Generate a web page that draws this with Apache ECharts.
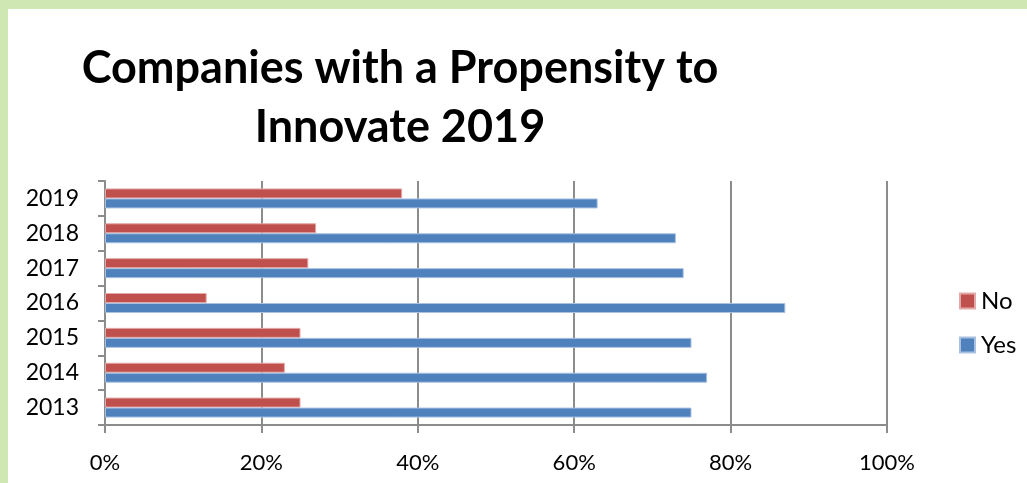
<!DOCTYPE html>
<html>
<head>
<meta charset="utf-8">
<script src="https://cdn.jsdelivr.net/npm/echarts@6/dist/echarts.min.js"></script>
<style>
html,body{margin:0;padding:0;background:#CFE8B3;width:1027px;height:483px;overflow:hidden;}
#chart{position:absolute;left:8px;top:9px;width:1019px;height:474px;background:#ffffff;}
</style>
</head>
<body>
<div id="chart"></div>
<script>
const categories = ['2013','2014','2015','2016','2017','2018','2019'];
const noValues = [25, 23, 25, 13, 26, 27, 38];
const yesValues = [75, 77, 75, 87, 74, 73, 63];
const xTicks = [0, 20, 40, 60, 80, 100];

const chart = echarts.init(document.getElementById('chart'));
const font = 'Lato, "Open Sans", sans-serif';
chart.setOption({
  animation: false,
  title: {
    text: 'Companies with a Propensity to\nInnovate 2019',
    left: 387, top: 25, textAlign: 'center',
    textStyle: { fontFamily: font, fontWeight: 'bold', fontSize: 45, lineHeight: 59, color: '#000' }
  },
  legend: {
    data: ['No', 'Yes'],
    orient: 'vertical',
    left: 946, top: 275,
    itemWidth: 15, itemHeight: 15, itemGap: 20,
    icon: 'rect',
    textStyle: { fontFamily: font, fontSize: 24, color: '#000', padding: [0,0,0,1] }
  },
  grid: { left: 97, top: 172, right: 140, bottom: 58 },
  xAxis: {
    type: 'value', min: 0, max: 100, interval: 20,
    axisLine: { show: true, lineStyle: { color: '#8c8c8c', width: 2 } },
    axisTick: { show: true, length: 8, lineStyle: { color: '#8c8c8c', width: 2 } },
    splitLine: { show: true, lineStyle: { color: '#8c8c8c', width: 2 } },
    axisLabel: { margin: 27, fontFamily: font, fontSize: 22, color: '#000',
      formatter: v => xTicks.includes(v) ? v + '%' : '' }
  },
  yAxis: {
    type: 'category', data: categories,
    axisLine: { show: true, lineStyle: { color: '#8c8c8c', width: 2 } },
    axisTick: { show: true, length: 7, alignWithLabel: false, lineStyle: { color: '#8c8c8c', width: 2 } },
    axisLabel: { margin: 26, fontFamily: font, fontSize: 23, color: '#000' }
  },
  series: [
    { name: 'No', type: 'bar', data: noValues, barWidth: 10, barGap: '0%',
      itemStyle: { color: '#C0504D', borderColor: '#E3A9A8', borderWidth: 1 } },
    { name: 'Yes', type: 'bar', data: yesValues, barWidth: 10, barGap: '0%',
      itemStyle: { color: '#4F81BD', borderColor: '#A9C1E0', borderWidth: 1 } }
  ]
});
</script>
</body>
</html>
